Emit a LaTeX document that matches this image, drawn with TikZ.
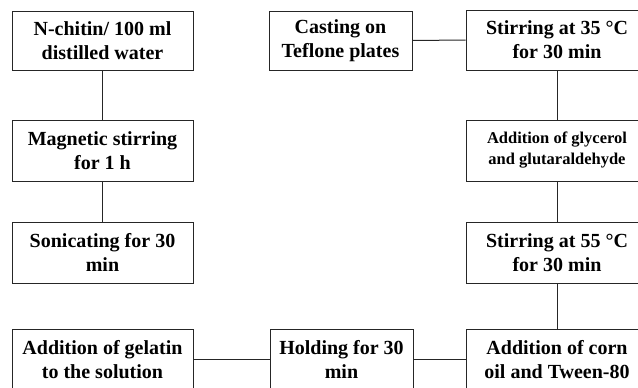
\documentclass[tikz,border=0pt]{standalone}
\usepackage{fontspec}
\setmainfont{Liberation Serif}
\begin{document}
\begin{tikzpicture}[x=1pt,y=-1pt,
  box/.style={draw=black!85,line width=1pt,rectangle,inner sep=0pt,align=center,
              font=\bfseries\fontsize{20}{24}\selectfont},
  small/.style={font=\bfseries\fontsize{16.5}{21}\selectfont},
  lw/.style={minimum width=181pt},
  mw/.style={minimum width=143pt},
  rw/.style={minimum width=182pt},
  link/.style={draw=black!85,line width=1pt}]
\useasboundingbox (0,0) rectangle (638,388);
\clip (0,0) rectangle (638,388);
% left column
\node[box,lw,minimum height=59pt] (a) at (102.5,40.5) {N-chitin/ 100 ml\\distilled water};
\node[box,lw,minimum height=61pt] (b) at (102.5,150.5) {Magnetic stirring\\for 1 h};
\node[box,lw,minimum height=61pt] (c) at (102.5,252.5) {Sonicating for 30\\min};
\node[box,lw,minimum height=61pt] (d) at (102.5,359.5) {Addition of gelatin\\to the solution};
% middle column
\node[box,mw,minimum height=59pt] (cast) at (340.5,40.5) {Casting on\\Teflone plates};
\node[box,mw,minimum height=61pt] (hold) at (341.5,359.5) {Holding for 30\\min};
% right column
\node[box,rw,minimum height=60pt] (s35) at (557,40) {Stirring at 35 °C\\for 30 min};
\node[box,small,rw,minimum height=61pt] (gly) at (557,150.5) {Addition of glycerol\\and glutaraldehyde};
\node[box,rw,minimum height=61pt] (s55) at (557,252.5) {Stirring at 55 °C\\for 30 min};
\node[box,rw,minimum height=61pt] (corn) at (557,359.5) {Addition of corn\\oil and Tween-80};
% connectors
\draw[link] (a) -- (b);
\draw[link] (b) -- (c);
\draw[link] (d) -- (hold);
\draw[link] (hold) -- (corn);
\draw[link] (corn) -- (s55);
\draw[link] (s55) -- (gly);
\draw[link] (gly) -- (s35);
\draw[link] (s35.west) -- (cast.east);
\end{tikzpicture}
\end{document}
